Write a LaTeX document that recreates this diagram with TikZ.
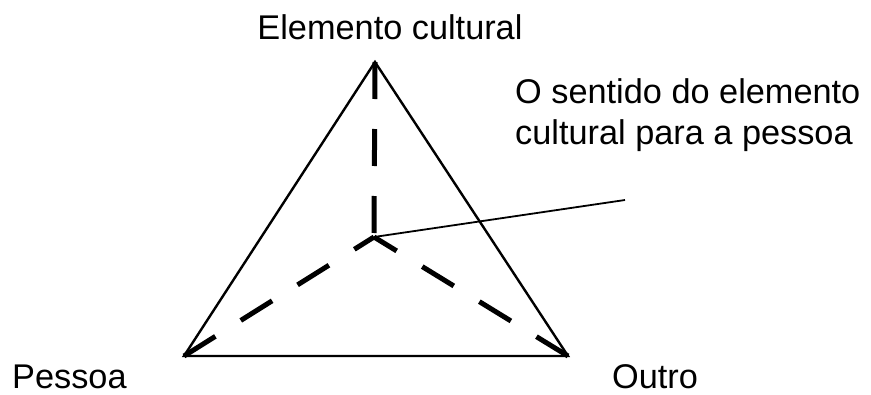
\documentclass[tikz,border=0pt]{standalone}
\usepackage{fontspec}
\setmainfont{Liberation Sans}
\usepackage{tikz}
\usetikzlibrary{positioning, calc}

\begin{document}
\begin{tikzpicture}[x=1pt, y=-1pt, every node/.style={font=\fontsize{34.3}{41}\selectfont, inner sep=0pt}]
	\tikzset{lado/.style={line width=2.4pt}, raio/.style={line width=5pt, dash pattern=on 37pt off 30pt}}

	\useasboundingbox (0,0) rectangle (871,394);

	\coordinate (topo) at (375,62);
	\coordinate (esq) at (184,356);
	\coordinate (dir) at (568,356);
	\coordinate (centro) at (374,237);
	\coordinate (ponta) at (625,200);

	% triangulo
	\draw [lado, line join=miter] (topo) -- (esq) -- (dir) -- cycle;

	% ligacoes ao centro
	\draw [raio] (topo) -- (centro);
	\draw [raio] (esq) -- (centro);
	\draw [raio] (dir) -- (centro);
	\draw [line width=1.8pt] (centro) -- (ponta);

	% legendas
	\node [anchor=base] (cultural) at (390,39) {Elemento cultural};
	\node [anchor=base west, align=left] (sentido) at (515,144) {O sentido do elemento\\cultural para a pessoa};
	\node [anchor=base west, text depth=0pt] (pessoa) at (12,388) {Pessoa};
	\node [anchor=base west, text depth=0pt] (outro) at (612,388) {Outro};
\end{tikzpicture}
\end{document}
